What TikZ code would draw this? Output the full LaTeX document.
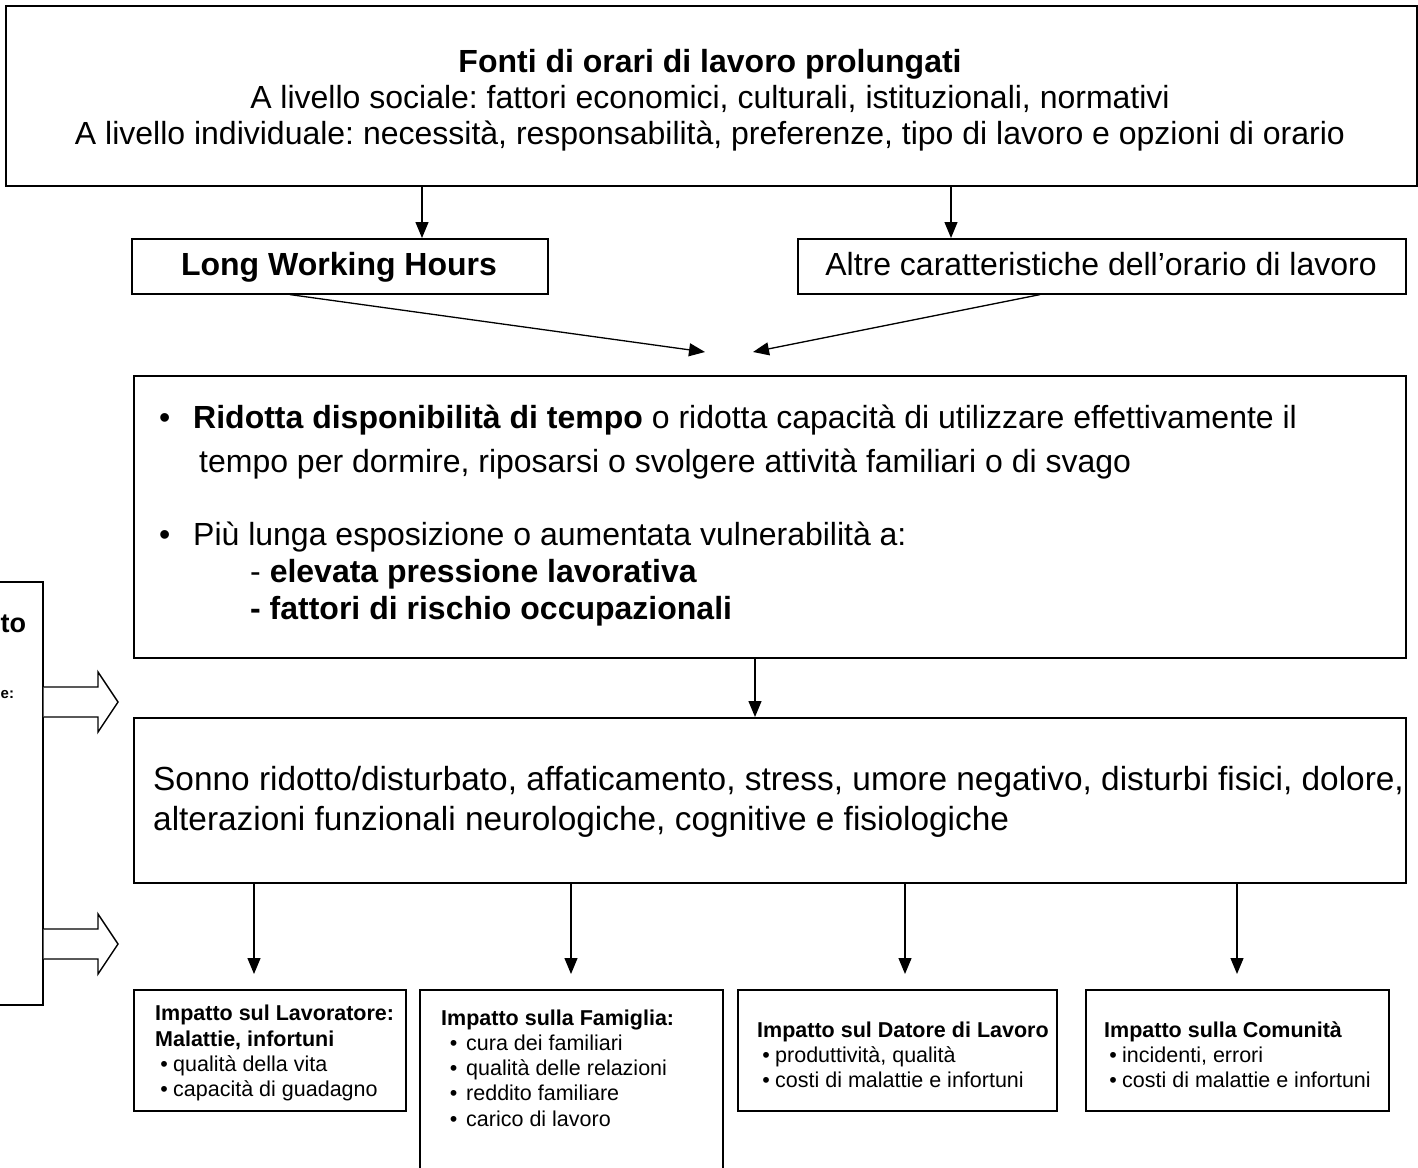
\documentclass[tikz,border=0pt]{standalone}
\usepackage{fontspec}
\setmainfont{Liberation Sans}
\usetikzlibrary{arrows.meta,calc}
\frenchspacing
\newcommand{\bl}[1]{\makebox[18pt][c]{\textbullet}#1}
\newcommand{\blw}[1]{\makebox[25pt][c]{\textbullet}#1}
\begin{document}
\begin{tikzpicture}[x=1pt,y=-1pt,
  box/.style={draw, line width=1.6pt, inner sep=0pt, anchor=north west},
  arr/.style={line width=1.3pt, -{Triangle[length=16pt,width=13pt]}},
  txt/.style={inner sep=0pt, font=\frenchspacing},
  big/.style={txt, anchor=base, font=\fontsize{32}{36}\selectfont},
  bigb/.style={txt, anchor=base, font=\fontsize{32}{36}\selectfont\bfseries},
  mid/.style={txt, anchor=base west, font=\fontsize{32}{36}\selectfont},
  midb/.style={txt, anchor=base west, font=\fontsize{32}{36}\selectfont\bfseries},
  sml/.style={txt, anchor=base west, font=\fontsize{21.5}{25}\selectfont},
  smlb/.style={txt, anchor=base west, font=\fontsize{21.5}{25}\selectfont\bfseries},
  blockarr/.style={draw, line width=1.4pt, fill=white, line join=miter}]
\useasboundingbox (0,0) rectangle (1418,1167);
\clip (0,0) rectangle (1418,1167);

% boxes
\node[box, minimum width=1411pt, minimum height=180pt] (top) at (5,5) {};
\node[box, minimum width=416pt, minimum height=55pt] (lwh) at (131,238) {};
\node[box, minimum width=608pt, minimum height=55pt] (altre) at (797,238) {};
\node[box, minimum width=1272pt, minimum height=282pt] (ridotta) at (133,375) {};
\node[box, minimum width=1272pt, minimum height=165pt] (sonno) at (133,717) {};
\node[box, minimum width=272pt, minimum height=121pt] (lav) at (133,989) {};
\node[box, minimum width=303pt, minimum height=200pt] (fam) at (419,989) {};
\node[box, minimum width=319pt, minimum height=121pt] (dat) at (737,989) {};
\node[box, minimum width=303pt, minimum height=121pt] (com) at (1085,989) {};
\node[box, minimum width=242pt, minimum height=423pt] (mod) at (-200,581) {};

% top box text
\node[bigb] (t1) at (710,72.5) {Fonti di orari di lavoro prolungati};
\node[big] (t2) at (710,108.5) {A livello sociale: fattori economici, culturali, istituzionali, normativi};
\node[big] (t3) at (710,144.5) {A livello individuale: necessità, responsabilità, preferenze, tipo di lavoro e opzioni di orario};

\node[bigb] (lwht) at (339,275.5) {Long Working Hours};
\node[big] (altt) at (1101,275.5) {Altre caratteristiche dell’orario di lavoro};

% ridotta box text
\node[mid] (r0) at (159,428.5) {•};
\node[mid] (r1) at (193,428.5) {\textbf{Ridotta disponibilità di tempo} o ridotta capacità di utilizzare effettivamente il};
\node[mid] (r2) at (199,472.5) {tempo per dormire, riposarsi o svolgere attività familiari o di svago};
\node[mid] (r3) at (159,545.5) {•};
\node[mid] (r4) at (193,545.5) {Più lunga esposizione o aumentata vulnerabilità a:};
\node[mid] (r5) at (250,582.5) {- \textbf{elevata pressione lavorativa}};
\node[midb] (r6) at (250,619.5) {- fattori di rischio occupazionali};

% sonno text
\node[mid, font=\fontsize{33.4}{38}\selectfont] (s1) at (153,790.5) {Sonno ridotto/disturbato, affaticamento, stress, umore negativo, disturbi fisici, dolore,};
\node[mid, font=\fontsize{33.4}{38}\selectfont] (s2) at (153,830.5) {alterazioni funzionali neurologiche, cognitive e fisiologiche};

% bottom boxes
\node[smlb] (l1) at (155,1020) {Impatto sul Lavoratore:};
\node[smlb] (l2) at (155,1046) {Malattie, infortuni};
\node[sml] (l3) at (155,1071) {\bl{qualità della vita}};
\node[sml] (l4) at (155,1096) {\bl{capacità di guadagno}};

\node[smlb] (f1) at (441,1025) {Impatto sulla Famiglia:};
\node[sml] (f2) at (441,1050) {\blw{cura dei familiari}};
\node[sml] (f3) at (441,1075) {\blw{qualità delle relazioni}};
\node[sml] (f4) at (441,1100) {\blw{reddito familiare}};
\node[sml] (f5) at (441,1126) {\blw{carico di lavoro}};

\node[smlb] (d1) at (757,1037) {Impatto sul Datore di Lavoro};
\node[sml] (d2) at (757,1062) {\bl{produttività, qualità}};
\node[sml] (d3) at (757,1087) {\bl{costi di malattie e infortuni}};

\node[smlb] (c1) at (1104,1037) {Impatto sulla Comunità};
\node[sml] (c2) at (1104,1062) {\bl{incidenti, errori}};
\node[sml] (c3) at (1104,1087) {\bl{costi di malattie e infortuni}};

% left (cut) box text
\node[txt, anchor=base west, font=\fontsize{27}{30}\selectfont\bfseries] (m1) at (0.5,632) {to};
\node[txt, anchor=base west, font=\fontsize{15}{18}\selectfont\bfseries] (m2) at (0.5,698) {e:};

% connectors
\draw[arr] ([xshift=417pt]top.south west) -- ([xshift=417pt]top.south west |- lwh.north);
\draw[arr] ([xshift=946pt]top.south west) -- ([xshift=946pt]top.south west |- altre.north);
\coordinate (m) at ($(ridotta.north west)+(596,-23)$);
\draw[arr] ([xshift=159pt]lwh.south west) -- ([xshift=-24pt]m);
\draw[arr] ([xshift=243pt]altre.south west) -- ([xshift=24pt]m);
\draw[arr] ([xshift=622pt]ridotta.south west) -- ([xshift=622pt]ridotta.south west |- sonno.north);
\foreach \dx/\tg in {121/lav, 438/fam, 772/dat, 1104/com}{
  \draw[arr] ([xshift=\dx pt]sonno.south west) -- ([xshift=\dx pt, yshift=15pt]sonno.south west |- lav.north);
}

% block arrows
\foreach \yc in {702, 944}{
  \draw[blockarr] (mod.east |- 0,\yc-15) -- (98,\yc-15) -- (98,\yc-30) -- (118,\yc) -- (98,\yc+30) -- (98,\yc+15) -- (mod.east |- 0,\yc+15);
}
\end{tikzpicture}
\end{document}
